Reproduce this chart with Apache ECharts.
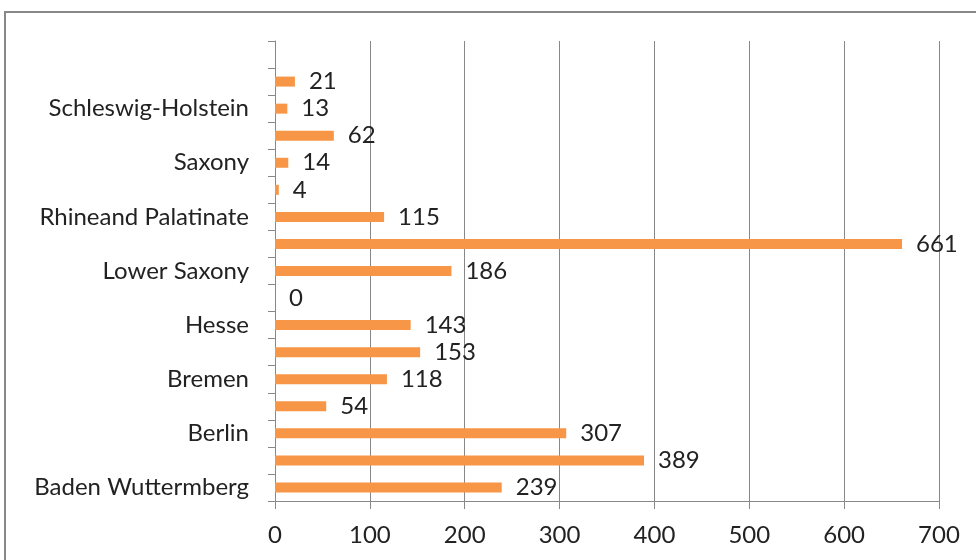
<!DOCTYPE html>
<html>
<head>
<meta charset="utf-8">
<script src="https://cdn.jsdelivr.net/npm/echarts@6/dist/echarts.min.js"></script>
<style>
  html, body { margin: 0; padding: 0; background: #fff; }
  #chart { width: 976px; height: 560px; }
</style>
</head>
<body>
<div id="chart"></div>
<script>
// states from bottom to top; the top slot is empty in the original
const states = [
  'Baden Wuttermberg', 'Bavaria', 'Berlin', 'Brandenburg', 'Bremen', 'Hamburg',
  'Hesse', 'Mecklenburg-Vorpommern', 'Lower Saxony', 'North Rhine-Westphalia',
  'Rhineand Palatinate', 'Saarland', 'Saxony', 'Saxony-Anhalt',
  'Schleswig-Holstein', 'Thuringia', ''
];
const counts = [239, 389, 307, 54, 118, 153, 143, 0, 186, 661, 115, 4, 14, 62, 13, 21, null];
const xTicks = [0, 700, 100]; // min, max, step

const chart = echarts.init(document.getElementById('chart'));
const font = 'Lato, "Open Sans", sans-serif';

chart.setOption({
  animation: false,
  textStyle: { fontFamily: font },
  graphic: [{
    type: 'rect',
    shape: { x: 5, y: 12, width: 1000, height: 600 },
    style: { fill: 'none', stroke: '#888', lineWidth: 2 },
    silent: true
  }],
  grid: { left: 275, right: 37, top: 41, bottom: 59 },
  xAxis: {
    type: 'value',
    min: xTicks[0],
    max: xTicks[1],
    interval: xTicks[2],
    axisLine: { show: true, lineStyle: { color: '#888', width: 1 } },
    axisTick: { show: true, length: 8, lineStyle: { color: '#888' } },
    splitLine: { show: true, lineStyle: { color: '#888', width: 1 } },
    axisLabel: { color: '#222', fontSize: 24, margin: 22, fontFamily: font }
  },
  yAxis: {
    type: 'category',
    data: states,
    axisLine: { show: true, lineStyle: { color: '#888', width: 1 } },
    axisTick: { show: true, length: 7, interval: 0, lineStyle: { color: '#888' } },
    splitLine: { show: false },
    axisLabel: { interval: 1, color: '#222', fontSize: 24, margin: 26, fontFamily: font }
  },
  series: [{
    type: 'bar',
    data: counts,
    barWidth: 10,
    itemStyle: { color: '#F79646' },
    label: {
      show: true,
      position: 'right',
      distance: 14,
      color: '#222',
      fontSize: 24,
      fontFamily: font,
      formatter: p => (p.value == null ? '' : p.value)
    }
  }]
});
</script>
</body>
</html>
